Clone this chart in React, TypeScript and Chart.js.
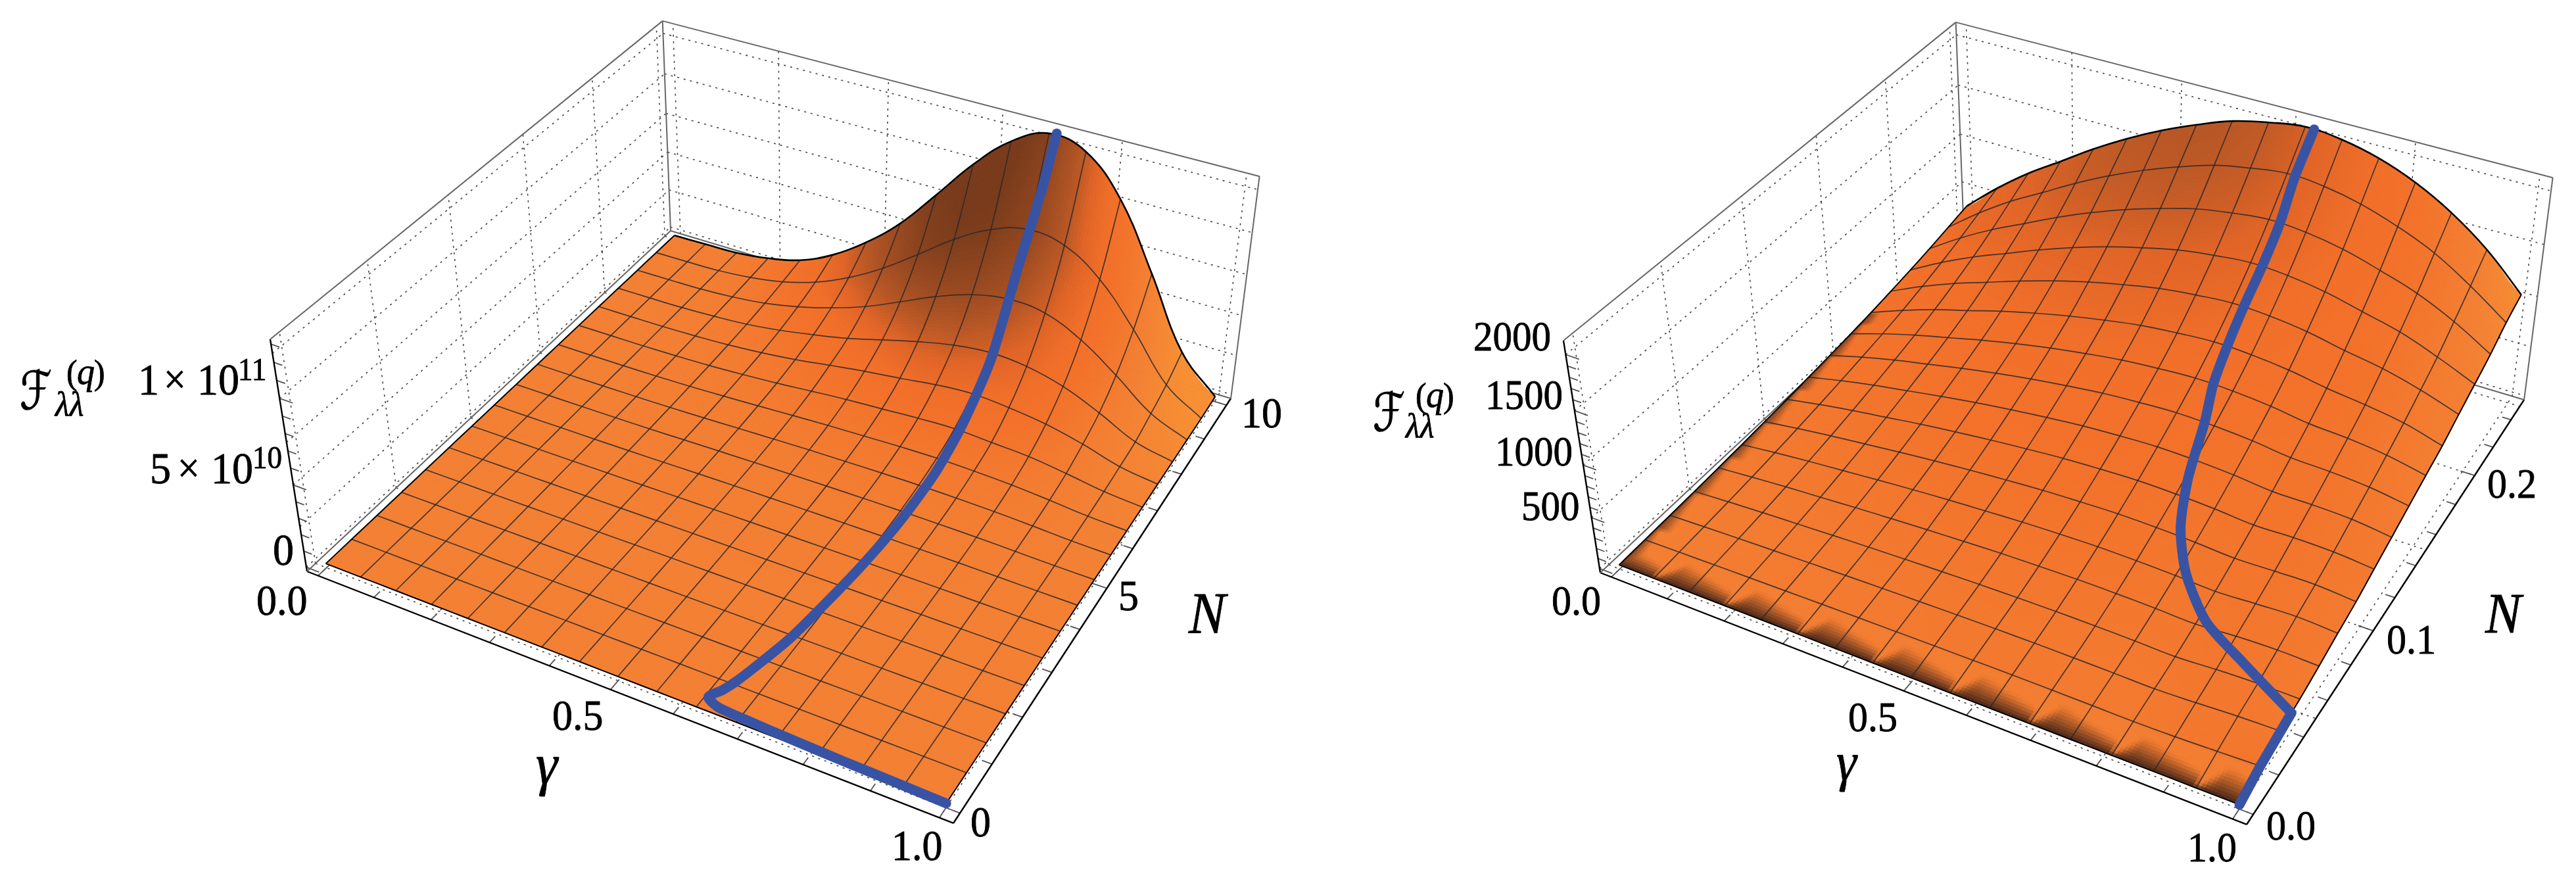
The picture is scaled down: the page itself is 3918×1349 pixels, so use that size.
import { useEffect, useRef } from "react";
import { Chart, registerables } from "chart.js";

Chart.register(...registerables);

// mesh nodes, fractions of the plotted range
const gammaNodes = [0, 0.0625, 0.125, 0.1875, 0.25, 0.3125, 0.375, 0.4375, 0.5, 0.5625, 0.625, 0.6875, 0.75, 0.8125, 0.875, 0.9375, 1];
const nLeftNodes = [0, 0.625, 1.25, 1.875, 2.5, 3.125, 3.75, 4.375, 5, 5.625, 6.25, 6.875, 7.5, 8.125, 8.75, 9.375, 10];
const nRightNodes = [0, 0.015625, 0.03125, 0.046875, 0.0625, 0.078125, 0.09375, 0.109375, 0.125, 0.140625, 0.15625, 0.171875, 0.1875, 0.203125, 0.21875, 0.234375, 0.25];

// left surface, units of 1e10, rows go from N = 0 to N = 10
const zLeft = [
    [0, 0, 0, 0, 0, 0, 0, 0, 0, 0, 0, 0, 0, 0, 0, 0, 0],
    [0, 0, 0, 0, 0, 0, 0, 0, 0, 0, 0, 0, 0, 0, 0, 0, 0],
    [0, 0, 0, 0, 0, 0, 0.005, 0.005, 0.005, 0.005, 0.005, 0.005, 0.005, 0.005, 0, 0, 0],
    [0, 0, 0, 0, 0.005, 0.01, 0.01, 0.01, 0.01, 0.01, 0.01, 0.01, 0.01, 0.01, 0.005, 0, 0],
    [0, 0, 0, 0.005, 0.01, 0.01, 0.02, 0.02, 0.02, 0.02, 0.02, 0.02, 0.02, 0.015, 0.01, 0, 0],
    [0, 0, 0, 0.01, 0.01, 0.02, 0.03, 0.04, 0.04, 0.04, 0.04, 0.04, 0.03, 0.03, 0.02, 0.01, 0],
    [0, 0, 0.005, 0.01, 0.02, 0.03, 0.05, 0.06, 0.07, 0.07, 0.07, 0.07, 0.06, 0.05, 0.03, 0.01, 0],
    [0, 0, 0.01, 0.015, 0.03, 0.05, 0.08, 0.1, 0.11, 0.12, 0.12, 0.12, 0.11, 0.09, 0.06, 0.02, 0],
    [0, 0, 0.01, 0.02, 0.04, 0.08, 0.12, 0.15, 0.18, 0.2, 0.21, 0.21, 0.19, 0.16, 0.1, 0.035, 0],
    [0, 0, 0.01, 0.03, 0.06, 0.11, 0.18, 0.24, 0.3, 0.33, 0.36, 0.37, 0.34, 0.28, 0.18, 0.06, 0],
    [0, 0, 0.015, 0.04, 0.09, 0.17, 0.27, 0.38, 0.48, 0.55, 0.62, 0.65, 0.6, 0.5, 0.32, 0.11, 0],
    [0, 0.01, 0.02, 0.06, 0.13, 0.25, 0.4, 0.6, 0.78, 0.91, 1.05, 1.12, 1.0, 0.87, 0.56, 0.2, 0],
    [0, 0.01, 0.03, 0.09, 0.19, 0.37, 0.62, 0.95, 1.27, 1.53, 1.83, 1.98, 1.82, 1.52, 1.0, 0.34, 0],
    [0, 0.01, 0.04, 0.13, 0.28, 0.56, 0.95, 1.4, 1.99, 2.56, 3.03, 3.26, 3.09, 2.54, 1.6, 0.51, 0],
    [0, 0.02, 0.05, 0.18, 0.42, 0.85, 1.45, 2.2, 3.17, 4.16, 4.94, 5.33, 5.13, 4.15, 2.63, 0.94, 0],
    [0, 0.02, 0.07, 0.26, 0.62, 1.25, 2.2, 3.45, 4.97, 6.54, 7.77, 8.4, 8.06, 6.63, 4.21, 1.43, 0],
    [0, 0.03, 0.08, 0.35, 0.86, 1.85, 3.3, 5.15, 7.54, 10.0, 11.96, 13.0, 12.5, 10.3, 6.42, 2.2, 0.05],
];

// right surface, rows go from N = 0 to N = 0.25
const zRight = [
    [0, 0, 0, 0, 0, 0, 0, 0, 0, 0, 0, 0, 0, 0, 0, 0, 0],
    [8, 15, 21, 26, 31, 36, 40, 43, 46, 48, 50, 49, 47, 44, 49, 62, 77],
    [15, 28, 40, 50, 60, 69, 77, 83, 89, 93, 95, 93, 90, 84, 98, 117, 127],
    [23, 43, 61, 76, 91, 105, 116, 127, 136, 141, 144, 142, 137, 127, 147, 158, 156],
    [33, 61, 87, 108, 130, 149, 166, 181, 194, 201, 206, 203, 195, 182, 204, 213, 202],
    [44, 83, 117, 146, 175, 202, 225, 244, 261, 272, 279, 274, 263, 245, 261, 275, 254],
    [58, 107, 151, 189, 227, 261, 291, 317, 339, 352, 361, 356, 341, 318, 326, 330, 301],
    [72, 135, 190, 238, 286, 328, 366, 398, 426, 443, 454, 447, 429, 400, 407, 399, 366],
    [89, 166, 234, 292, 350, 403, 449, 489, 523, 544, 557, 549, 527, 491, 489, 475, 429],
    [107, 200, 281, 351, 422, 485, 541, 588, 629, 654, 670, 660, 634, 591, 578, 551, 495],
    [127, 236, 333, 416, 500, 575, 641, 697, 745, 775, 794, 782, 751, 700, 676, 633, 558],
    [150, 279, 394, 491, 591, 679, 757, 824, 881, 916, 939, 925, 888, 827, 782, 723, 621],
    [178, 332, 467, 583, 701, 806, 899, 977, 1045, 1087, 1114, 1097, 1054, 982, 920, 826, 705],
    [209, 390, 549, 686, 824, 948, 1057, 1149, 1229, 1278, 1310, 1290, 1239, 1154, 1067, 936, 785],
    [245, 457, 644, 805, 967, 1112, 1240, 1348, 1442, 1500, 1537, 1514, 1453, 1354, 1238, 1074, 868],
    [286, 534, 753, 940, 1129, 1299, 1448, 1575, 1684, 1751, 1795, 1768, 1697, 1582, 1432, 1219, 971],
    [329, 614, 865, 1080, 1298, 1493, 1664, 1810, 1936, 2013, 2063, 2032, 1951, 1818, 1629, 1377, 1046],
];

// the blue ridge line on each surface
const blueLeftGamma = [1.0, 0.93, 0.85, 0.765, 0.7, 0.651, 0.63, 0.64, 0.648, 0.66, 0.672, 0.68, 0.69, 0.696, 0.697, 0.695, 0.695, 0.69, 0.69, 0.695, 0.7];
const blueLeftN = [0.0, 0.02, 0.04, 0.07, 0.1, 0.136, 0.24, 0.45, 0.68, 1.2, 1.8, 2.5, 3.6, 4.8, 6.0, 7.0, 8.0, 9.0, 9.4, 9.7, 10.0];
const blueLeftZ = [0, 0, 0, 0, 0, 0, 0, 0, 0, 0, 0.005, 0.01, 0.03, 0.1, 0.4, 1.2, 3.2, 6.8, 8.4, 10.5, 13.1];

const blueRightGamma = [1.0, 1.0, 1.0, 0.904, 0.826, 0.7625, 0.72, 0.691, 0.672, 0.655, 0.6475, 0.644, 0.644, 0.643, 0.638, 0.64];
const blueRightN = [0.0, 0.0156, 0.04, 0.053, 0.064, 0.08, 0.097, 0.1175, 0.1406, 0.1563, 0.1719, 0.1875, 0.2031, 0.2188, 0.2344, 0.25];
const blueRightZ = [0, 77, 143, 175, 210, 285, 375, 490, 670, 790, 940, 1110, 1300, 1520, 1780, 2060];

// axis ticks
const gammaMinor = [0, 0.1, 0.2, 0.3, 0.4, 0.5, 0.6, 0.7, 0.8, 0.9, 1];
const gammaMajor = [0, 0.5, 1];
const gammaGrid = [0, 0.2, 0.4, 0.6, 0.8, 1];
const nLeftMinor = [0, 1, 2, 3, 4, 5, 6, 7, 8, 9, 10];
const nLeftMajor = [0, 5, 10];
const nLeftGrid = [0, 2, 4, 6, 8, 10];
const nRightMinor = [0, 0.02, 0.04, 0.06, 0.08, 0.1, 0.12, 0.14, 0.16, 0.18, 0.2, 0.22, 0.24];
const nRightMajor = [0, 0.1, 0.2];
const nRightGrid = [0, 0.05, 0.1, 0.15, 0.2, 0.25];
const zLeftMinor = [0, 1, 2, 3, 4, 5, 6, 7, 8, 9, 10, 11, 12, 13];
const zLeftMajor = [0, 5, 10];
const zLeftGrid = [0, 2.5, 5, 7.5, 10, 12.5];
const zRightMinor = [0, 100, 200, 300, 400, 500, 600, 700, 800, 900, 1000, 1100, 1200, 1300, 1400, 1500, 1600, 1700, 1800, 1900, 2000];
const zRightMajor = [0, 500, 1000, 1500, 2000];
const zRightGrid = [0, 500, 1000, 1500, 2000];

// perspective of the box, same view for both panels
const CAMERA = [
    [816.3, 767.9, -84.4, 467],
    [239, -444, -388.6, 869],
    [-0.115, 0.2107, -0.069, 1],
];

type Label = { t: string; x: number; y: number; s: number; f?: string; tall?: number };

const SERIF = '"Liberation Serif"';
const leftLabels: Label[] = [
    { t: "ℱ", x: 30, y: 622, s: 62, f: 'italic {s}px "DejaVu Sans"', tall: 1.3 },
    { t: "(", x: 101, y: 584, s: 50 }, { t: "q", x: 117, y: 584, s: 54, f: `italic {s}px ${SERIF}` }, { t: ")", x: 143, y: 584, s: 50 },
    { t: "λλ", x: 84, y: 632, s: 50, f: `italic {s}px ${SERIF}` },
    { t: "1", x: 210, y: 600, s: 64 }, { t: "×", x: 249, y: 598, s: 60 }, { t: "10", x: 300, y: 600, s: 64 }, { t: "11", x: 362, y: 578, s: 45 },
    { t: "5", x: 228, y: 735, s: 64 }, { t: "×", x: 270, y: 733, s: 60 }, { t: "10", x: 321, y: 735, s: 64 }, { t: "10", x: 384, y: 712, s: 45 },
    { t: "0", x: 415, y: 859, s: 64 },
    { t: "0.0", x: 390, y: 935, s: 62 }, { t: "0.5", x: 840, y: 1110, s: 62 }, { t: "1.0", x: 1356, y: 1308, s: 62 },
    { t: "γ", x: 815, y: 1192, s: 84, f: `italic {s}px ${SERIF}` },
    { t: "0", x: 1476, y: 1272, s: 62 }, { t: "5", x: 1701, y: 928, s: 62 }, { t: "10", x: 1888, y: 650, s: 62 },
    { t: "N", x: 1808, y: 962, s: 84, f: `italic {s}px ${SERIF}` },
];
const rightLabels: Label[] = [
    { t: "ℱ", x: 2088, y: 655, s: 62, f: 'italic {s}px "DejaVu Sans"', tall: 1.3 },
    { t: "(", x: 2153, y: 619, s: 50 }, { t: "q", x: 2169, y: 619, s: 54, f: `italic {s}px ${SERIF}` }, { t: ")", x: 2195, y: 619, s: 50 },
    { t: "λλ", x: 2138, y: 665, s: 50, f: `italic {s}px ${SERIF}` },
    { t: "2000", x: 2241, y: 533, s: 59 }, { t: "1500", x: 2259, y: 622, s: 59 }, { t: "1000", x: 2274, y: 708, s: 59 }, { t: "500", x: 2314, y: 791, s: 59 },
    { t: "0.0", x: 2360, y: 935, s: 60 }, { t: "0.5", x: 2811, y: 1112, s: 60 }, { t: "1.0", x: 3327, y: 1310, s: 60 },
    { t: "γ", x: 2793, y: 1186, s: 78, f: `italic {s}px ${SERIF}` },
    { t: "0.0", x: 3447, y: 1277, s: 60 }, { t: "0.1", x: 3630, y: 994, s: 60 }, { t: "0.2", x: 3783, y: 757, s: 60 },
    { t: "N", x: 3780, y: 962, s: 82, f: `italic {s}px ${SERIF}` },
];

type Panel = {
    left: number; dx: number; dy: number; nMax: number; zMax: number;
    nodesN: number[]; rows: number[][];
    blueG: number[]; blueN: number[]; blueZ: number[]; blueKink: number;
    nMinor: number[]; nMajor: number[]; nGrid: number[];
    zMinor: number[]; zMajor: number[]; zGrid: number[];
    labels: Label[]; edgeShade: boolean;
};

const leftPanel: Panel = {
    left: 0, dx: 0, dy: 0, nMax: 10, zMax: 13, nodesN: nLeftNodes, rows: zLeft,
    blueG: blueLeftGamma, blueN: blueLeftN, blueZ: blueLeftZ, blueKink: 0,
    nMinor: nLeftMinor, nMajor: nLeftMajor, nGrid: nLeftGrid,
    zMinor: zLeftMinor, zMajor: zLeftMajor, zGrid: zLeftGrid,
    labels: leftLabels, edgeShade: false,
};
const rightPanel: Panel = {
    left: 1959, dx: 1967, dy: 2, nMax: 0.25, zMax: 2080, nodesN: nRightNodes, rows: zRight,
    blueG: blueRightGamma, blueN: blueRightN, blueZ: blueRightZ, blueKink: 2,
    nMinor: nRightMinor, nMajor: nRightMajor, nGrid: nRightGrid,
    zMinor: zRightMinor, zMajor: zRightMajor, zGrid: zRightGrid,
    labels: rightLabels, edgeShade: true,
};

const pad = (f: number) => (f + 0.02) / 1.04;

// box fractions -> page coordinates
function boxPoint(p: Panel, u: number, v: number, w: number) {
    const [a, b, c] = CAMERA;
    const d = c[0] * u + c[1] * v + c[2] * w + c[3];
    return {
        x: (a[0] * u + a[1] * v + a[2] * w + a[3]) / d + p.dx,
        y: (b[0] * u + b[1] * v + b[2] * w + b[3]) / d + p.dy,
    };
}
const project = (p: Panel, g: number, n: number, z: number) => boxPoint(p, pad(g), pad(n / p.nMax), pad(z / p.zMax));

// ramp from surface tilt to orange / brown
const RAMP: [number, number, number, number][] = [
    [-0.3, 247, 142, 50], [0, 243, 127, 50], [0.3, 243, 113, 41], [0.45, 240, 110, 40],
    [0.6, 225, 100, 38], [0.75, 180, 85, 36], [1, 120, 58, 26],
];
function rampColour(q: number) {
    if (q <= RAMP[0][0]) return RAMP[0].slice(1);
    for (let k = 1; k < RAMP.length; k++) {
        if (q <= RAMP[k][0]) {
            const t = (q - RAMP[k - 1][0]) / (RAMP[k][0] - RAMP[k - 1][0]);
            return [1, 2, 3].map((c) => RAMP[k - 1][c] + t * (RAMP[k][c] - RAMP[k - 1][c]));
        }
    }
    return RAMP[RAMP.length - 1].slice(1);
}

function catmull(a: number, b: number, c: number, d: number, t: number) {
    return 0.5 * (2 * b + (c - a) * t + (2 * a - 5 * b + 4 * c - d) * t * t + (3 * b - a - 3 * c + d) * t * t * t);
}

const SUB = 12;

function drawSurface(chart: Chart, p: Panel) {
    const ctx = chart.ctx;
    const sx = chart.scales.x;
    const sy = chart.scales.y;
    const R = p.rows;
    const at = (j: number, i: number) => R[Math.max(0, Math.min(16, j))][Math.max(0, Math.min(16, i))];
    // tilt at mesh nodes
    const tilt: number[][] = R.map((row, j) => row.map((_, i) => {
        const i0 = Math.max(0, i - 1), i1 = Math.min(16, i + 1);
        const j0 = Math.max(0, j - 1), j1 = Math.min(16, j + 1);
        const gx = ((at(j, i1) - at(j, i0)) * 16) / (i1 - i0) / p.zMax;
        const gy = ((at(j1, i) - at(j0, i)) * 16) / (j1 - j0) / p.zMax;
        return (0.4 * (gy + 0.6 * gx)) / Math.sqrt(1 + 0.16 * (gx * gx + gy * gy));
    }));
    const size = 16 * SUB + 1;
    const px: number[][] = [];
    const py: number[][] = [];
    const col: number[][][] = [];
    for (let a = 0; a < size; a++) {
        const jf = a / SUB;
        const j = Math.min(15, Math.floor(jf));
        const t = jf - j;
        px.push([]); py.push([]); col.push([]);
        for (let b = 0; b < size; b++) {
            const f = b / SUB;
            const i = Math.min(15, Math.floor(f));
            const s = f - i;
            const across = [-1, 0, 1, 2].map((dj) => catmull(at(j + dj, i - 1), at(j + dj, i), at(j + dj, i + 1), at(j + dj, i + 2), s));
            const z = catmull(across[0], across[1], across[2], across[3], t);
            const g = gammaNodes[i] + s * (gammaNodes[i + 1] - gammaNodes[i]);
            const n = p.nodesN[j] + t * (p.nodesN[j + 1] - p.nodesN[j]);
            const q = project(p, g, n, z);
            px[a].push(sx.getPixelForValue(q.x));
            py[a].push(sy.getPixelForValue(q.y));
            const shade = (1 - t) * ((1 - s) * tilt[j][i] + s * tilt[j][i + 1]) + t * ((1 - s) * tilt[j + 1][i] + s * tilt[j + 1][i + 1]);
            let c = rampColour(j === 0 ? Math.min(0.05, shade) : shade);
            if (p.edgeShade) {
                // dark fringe where the surface climbs out of zero
                let dark = 0;
                if (j === 0) {
                    const saw = ((f + 1) / 2) % 1;
                    const width = saw < 0.22 ? 0.04 + (saw / 0.22) * 0.72 : 0.76 - 0.36 * ((saw - 0.22) / 0.78);
                    dark = Math.max(dark, Math.pow(Math.max(0, 1 - t / width), 1.1));
                }
                if (i === 0 && jf < 11) {
                    const saw = (jf / 1.5) % 1;
                    dark = Math.max(dark, 0.7 * (1 - s / (0.12 + 0.3 * (1 - saw))));
                }
                if (dark > 0) c = c.map((v, k) => v + dark * ([72, 38, 24][k] - v));
            }
            col[a].push(c);
        }
    }
    ctx.save();
    ctx.lineWidth = 0.8;
    ctx.lineJoin = "round";
    for (let a = size - 2; a >= 0; a--) {
        for (let b = 0; b < size - 1; b++) {
            const c = [0, 1, 2].map((k) => Math.round((col[a][b][k] + col[a][b + 1][k] + col[a + 1][b][k] + col[a + 1][b + 1][k]) / 4));
            const css = `rgb(${c[0]},${c[1]},${c[2]})`;
            ctx.fillStyle = css;
            ctx.strokeStyle = css;
            ctx.beginPath();
            ctx.moveTo(px[a][b], py[a][b]);
            ctx.lineTo(px[a][b + 1], py[a][b + 1]);
            ctx.lineTo(px[a + 1][b + 1], py[a + 1][b + 1]);
            ctx.lineTo(px[a + 1][b], py[a + 1][b]);
            ctx.closePath();
            ctx.fill();
            ctx.stroke();
        }
    }
    ctx.restore();
}

const surfacePlugin = {
    id: "surface",
    beforeDatasetDraw(chart: any, args: any, opts: any) {
        if (chart.data.datasets[args.index].label === "surface") drawSurface(chart, opts.panel);
    },
    afterDraw(chart: any, _args: any, opts: any) {
        const ctx = chart.ctx;
        ctx.fillStyle = "#000";
        ctx.strokeStyle = "#000";
        ctx.lineWidth = 0.8;
        ctx.textBaseline = "alphabetic";
        for (const l of opts.panel.labels as Label[]) {
            ctx.save();
            ctx.font = (l.f ?? `{s}px ${SERIF}`).replace("{s}", String(l.s));
            ctx.translate(chart.scales.x.getPixelForValue(l.x), chart.scales.y.getPixelForValue(l.y));
            ctx.scale(1, l.tall ?? 1.06);
            ctx.fillText(l.t, 0, 0);
            ctx.strokeText(l.t, 0, 0);
            ctx.restore();
        }
    },
};

function line(data: { x: number; y: number }[], color: string, width: number, order: number, extra: object = {}) {
    return { data, borderColor: color, borderWidth: width, order, showLine: true, pointRadius: 0, tension: 0, fill: false, ...extra };
}

function buildDatasets(p: Panel) {
    const sets: any[] = [];
    const gridStyle = { borderDash: [3, 7] };
    const gridColor = "#444";
    const seg = (u0: number, v0: number, w0: number, u1: number, v1: number, w1: number) => [boxPoint(p, u0, v0, w0), boxPoint(p, u1, v1, w1)];

    // dotted face grids
    for (const z of p.zGrid) {
        const w = pad(z / p.zMax);
        sets.push(line(seg(0, 0, w, 0, 1, w), gridColor, 1.6, 6, gridStyle));
        sets.push(line(seg(0, 1, w, 1, 1, w), gridColor, 1.6, 6, gridStyle));
    }
    for (const n of p.nGrid) {
        const v = pad(n / p.nMax);
        sets.push(line(seg(0, v, 0, 0, v, 1), gridColor, 1.6, 6, gridStyle));
        sets.push(line(seg(0, v, 0, 1, v, 0), gridColor, 1.6, 6, gridStyle));
    }
    for (const g of gammaGrid) {
        const u = pad(g);
        sets.push(line(seg(u, 1, 0, u, 1, 1), gridColor, 1.6, 6, gridStyle));
        sets.push(line(seg(u, 0, 0, u, 1, 0), gridColor, 1.6, 6, gridStyle));
    }

    // box edges
    const grey = "#666";
    sets.push(line(seg(0, 0, 0, 0, 1, 0), grey, 2, 5));
    sets.push(line(seg(0, 1, 0, 1, 1, 0), grey, 2, 5));
    sets.push(line(seg(0, 1, 0, 0, 1, 1), grey, 2, 5));
    sets.push(line(seg(0, 0, 1, 0, 1, 1), grey, 2, 5));
    sets.push(line(seg(0, 1, 1, 1, 1, 1), grey, 2, 5));
    sets.push(line(seg(1, 1, 1, 1, 1, 0), grey, 2, 5));
    sets.push(line(seg(0, 0, 0, 1, 0, 0), "#000", 2.4, 5));
    sets.push(line(seg(1, 0, 0, 1, 1, 0), "#000", 2.4, 5));
    sets.push(line(seg(0, 0, 0, 0, 0, 1), "#000", 2.4, 5));

    // ticks
    const tickColor = "#555";
    for (const g of gammaMinor) {
        const len = gammaMajor.includes(g) ? 0.022 : 0.014;
        sets.push(line(seg(pad(g), 0, 0, pad(g), len, 0), tickColor, 1.8, 5));
    }
    for (const n of p.nMinor) {
        const v = pad(n / p.nMax);
        const len = p.nMajor.includes(n) ? 0.022 : 0.014;
        sets.push(line(seg(1, v, 0, 1 - len, v, 0), tickColor, 1.8, 5));
    }
    for (const z of p.zMinor) {
        const w = pad(z / p.zMax);
        if (w > 1) continue;
        const len = p.zMajor.includes(z) ? 0.022 : 0.014;
        sets.push(line(seg(0, 0, w, len, 0, w), tickColor, 1.8, 5));
    }

    // surface nodes, the fill is painted just before this dataset
    const nodes = p.rows.flatMap((row, j) => row.map((z, i) => project(p, gammaNodes[i], p.nodesN[j], z)));
    sets.push({ label: "surface", data: nodes, order: 4, showLine: false, pointRadius: 0 });

    // mesh
    const meshColor = "rgba(40,40,45,0.85)";
    const curve = { tension: 0.4 };
    p.rows.forEach((row, j) => {
        const pts = row.map((z, i) => project(p, gammaNodes[i], p.nodesN[j], z));
        if (j === 0 || j === 16) sets.push(line(pts, "#000", j === 16 ? 2.6 : 2, 2, curve));
        else sets.push(line(pts, meshColor, 1.7, 3, curve));
    });
    gammaNodes.forEach((g, i) => {
        const pts = p.rows.map((row, j) => project(p, g, p.nodesN[j], row[i]));
        if (i === 0 || i === 16) sets.push(line(pts, "#000", 2, 2, curve));
        else sets.push(line(pts, meshColor, 1.7, 3, curve));
    });

    // ridge, kept in two pieces where it has a sharp corner
    const blue = p.blueG.map((g, k) => project(p, g, p.blueN[k], p.blueZ[k]));
    const blueStyle = { tension: 0.25, borderCapStyle: "round", borderJoinStyle: "round" };
    sets.push(line(blue.slice(p.blueKink), "#3953A4", 15, 0, blueStyle));
    if (p.blueKink > 0) sets.push(line(blue.slice(0, p.blueKink + 1), "#3953A4", 15, 0, { ...blueStyle, tension: 0 }));
    return sets;
}

function SurfacePanel({ panel }: { panel: Panel }) {
    const canvasRef = useRef<HTMLCanvasElement | null>(null);

    useEffect(() => {
        if (!canvasRef.current) return;
        const chart = new Chart(canvasRef.current, {
            type: "scatter",
            data: { datasets: buildDatasets(panel) },
            options: {
                animation: false,
                responsive: false,
                devicePixelRatio: 1,
                events: [],
                layout: { padding: 0 },
                scales: {
                    x: { type: "linear", display: false, min: panel.left, max: panel.left + 1959 },
                    y: { type: "linear", display: false, min: 0, max: 1349, reverse: true },
                },
                plugins: { legend: { display: false }, tooltip: { enabled: false }, surface: { panel } } as any,
            },
            plugins: [surfacePlugin],
        });
        return () => chart.destroy();
    }, [panel]);

    return <canvas ref={canvasRef} width={1959} height={1349} style={{ display: "block" }} />;
}

export default function App() {
    return (
        <div style={{ position: "absolute", left: 0, top: 0, width: 3918, height: 1349, display: "flex", background: "#fff" }}>
            <SurfacePanel panel={leftPanel} />
            <SurfacePanel panel={rightPanel} />
        </div>
    );
}
